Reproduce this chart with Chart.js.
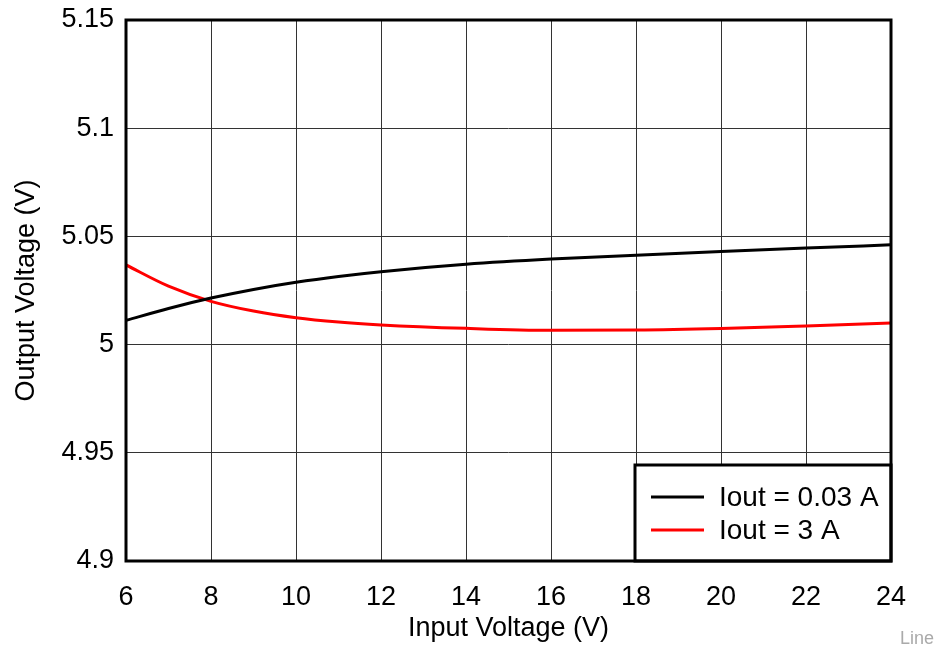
<!DOCTYPE html>
<html>
<head>
<meta charset="utf-8">
<script src="https://cdn.jsdelivr.net/npm/chart.js@4"></script>
<style>
  body { margin: 0; background: #fff; }
  #wrap { position: relative; width: 938px; height: 651px; }
  #tag { position: absolute; right: 4px; bottom: 2px; font: 18px "Liberation Sans", Arial, sans-serif; color: #aaa; }
</style>
</head>
<body>
<div id="wrap">
  <canvas id="canvas" width="938" height="651"></canvas>
  <div id="tag">Line</div>
</div>
<script>
var inputVoltage = [6, 7, 8, 9, 10, 11, 12, 14, 16, 18, 20, 22, 24];
var voutLight = [5.0112, 5.0167, 5.0215, 5.0255, 5.0288, 5.0315, 5.0337, 5.0371, 5.0395, 5.0413, 5.0430, 5.0446, 5.0461];
var voutHeavy = [5.0368, 5.0270, 5.0200, 5.0155, 5.0124, 5.0104, 5.0091, 5.0075, 5.0066, 5.0067, 5.0074, 5.0086, 5.0100];
var seriesLabels = ['Iout = 0.03 A', 'Iout = 3 A'];
var xTicks = [6, 8, 10, 12, 14, 16, 18, 20, 22, 24];
var yTicks = [4.9, 4.95, 5, 5.05, 5.1, 5.15];

var FONT = '"Liberation Sans", Arial, sans-serif';
var FS = 27;

function pts(ys) {
  return inputVoltage.map(function (x, i) { return { x: x, y: ys[i] }; });
}

var frameAndLegend = {
  id: 'frameAndLegend',
  afterDatasetsDraw: function (chart) {
    var c = chart.ctx, a = chart.chartArea;
    c.save();
    // legend box, bottom right inside plot
    var w = 256, h = 96;
    var lx = a.right - w, ly = a.bottom - h;
    c.fillStyle = '#fff';
    c.fillRect(lx, ly, w, h);
    c.lineWidth = 3;
    c.strokeStyle = '#000';
    c.strokeRect(lx, ly, w, h);
    c.font = '28px ' + FONT;
    c.textBaseline = 'middle';
    chart.data.datasets.forEach(function (ds, i) {
      var yy = ly + 32 + i * 33;
      c.strokeStyle = ds.borderColor;
      c.lineWidth = 3;
      c.beginPath();
      c.moveTo(lx + 16, yy);
      c.lineTo(lx + 69, yy);
      c.stroke();
      c.fillStyle = '#000';
      c.fillText(ds.label, lx + 84, yy + 1);
    });
    // plot frame
    c.strokeStyle = '#000';
    c.lineWidth = 3;
    c.strokeRect(a.left, a.top, a.right - a.left, a.bottom - a.top);
    c.restore();
  }
};

var ctx = document.getElementById('canvas').getContext('2d');
var chart = new Chart(ctx, {
  type: 'scatter',
  data: {
    datasets: [{
      label: seriesLabels[0],
      data: pts(voutLight),
      showLine: true,
      borderColor: '#000',
      borderWidth: 3,
      pointRadius: 0,
      cubicInterpolationMode: 'monotone'
    }, {
      label: seriesLabels[1],
      data: pts(voutHeavy),
      showLine: true,
      borderColor: '#ff0000',
      borderWidth: 3,
      pointRadius: 0,
      cubicInterpolationMode: 'monotone'
    }]
  },
  options: {
    responsive: false,
    animation: false,
    layout: { padding: { left: 0, right: 47, top: 20, bottom: 0 } },
    plugins: { legend: { display: false }, tooltip: { enabled: false } },
    scales: {
      x: {
        type: 'linear',
        min: 6, max: 24,
        afterBuildTicks: function (s) { s.ticks = xTicks.map(function (v) { return { value: v }; }); },
        afterFit: function (s) { s.height = 90; s.paddingLeft = 0; s.paddingRight = 0; },
        grid: { color: '#333', lineWidth: 1, drawTicks: false },
        border: { display: false },
        ticks: { color: '#000', font: { family: FONT, size: FS }, padding: 20, maxRotation: 0 },
        title: { display: true, text: 'Input Voltage (V)', color: '#000', font: { family: FONT, size: FS }, padding: { top: 0, bottom: 6 } }
      },
      y: {
        min: 4.9, max: 5.15,
        afterBuildTicks: function (s) { s.ticks = yTicks.map(function (v) { return { value: v }; }); },
        afterFit: function (s) { s.width = 126; s.paddingTop = 0; s.paddingBottom = 0; },
        grid: { color: '#333', lineWidth: 1, drawTicks: false },
        border: { display: false },
        ticks: { color: '#000', font: { family: FONT, size: FS }, padding: 12,
          callback: function (v) { return String(Math.round(v * 100) / 100); } },
        title: { display: true, text: 'Output Voltage (V)', color: '#000', font: { family: FONT, size: FS }, padding: { top: 10, bottom: 0 } }
      }
    }
  },
  plugins: [frameAndLegend]
});
</script>
</body>
</html>
